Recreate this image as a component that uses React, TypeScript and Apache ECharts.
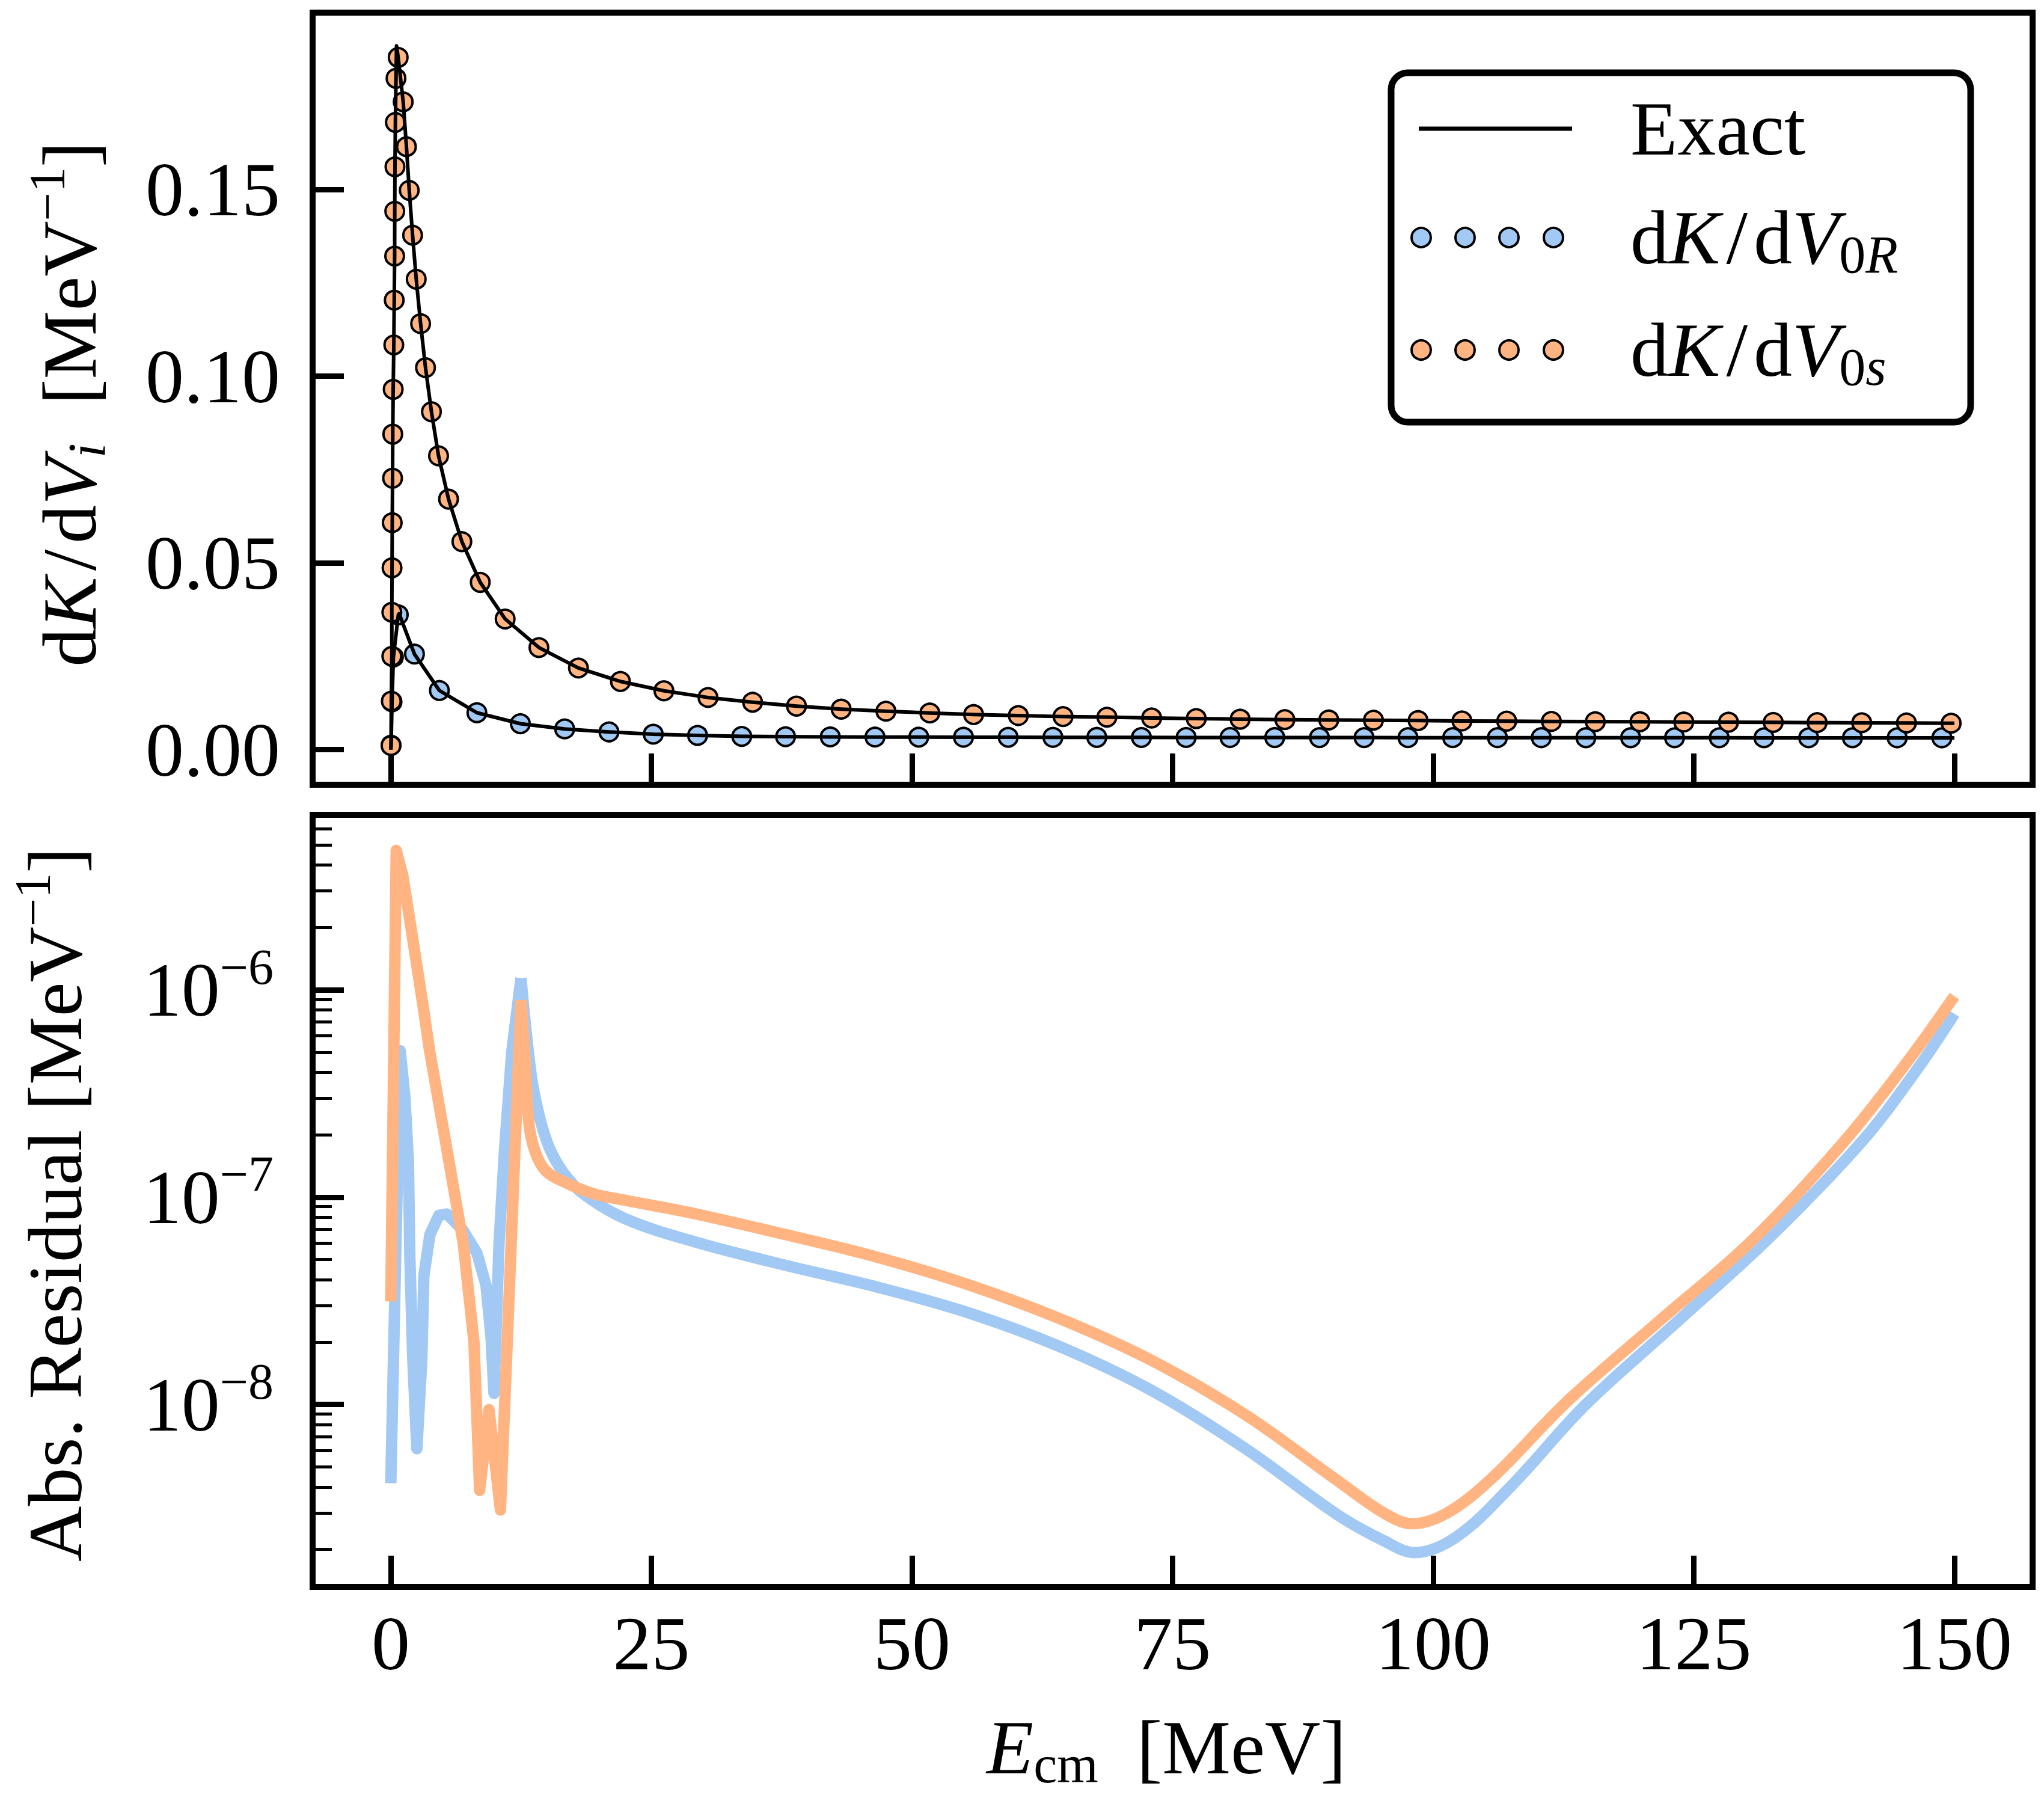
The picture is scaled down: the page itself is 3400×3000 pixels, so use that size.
import React, { useEffect, useRef } from "react";
import * as echarts from "echarts";

const FONT = '"Liberation Serif", "Times New Roman", serif';
const BLUE = "#a1c9f4";
const ORANGE = "#ffb482";

// ---------- axes ----------
const xRange = [-7.5, 157.5];
const xTicks = [0, 25, 50, 75, 100, 125, 150];
const topYRange = [-0.0094, 0.1974];
const topYTicks = [0, 0.05, 0.1, 0.15];
const logYRange = [1.318e-9, 6.99e-6];
const logMajorTicks = [1e-8, 1e-7, 1e-6];
const logMinorTicks = [
  2e-9, 3e-9, 4e-9, 5e-9, 6e-9, 7e-9, 8e-9, 9e-9,
  2e-8, 3e-8, 4e-8, 5e-8, 6e-8, 7e-8, 8e-8, 9e-8,
  2e-7, 3e-7, 4e-7, 5e-7, 6e-7, 7e-7, 8e-7, 9e-7,
  2e-6, 3e-6, 4e-6, 5e-6, 6e-6,
];

// ---------- top panel: dK/dV0s (orange) ----------
const orangeRise = [
  [0.02, 0.0011], [0.05, 0.013], [0.1, 0.025], [0.1, 0.0368], [0.12, 0.0487],
  [0.14, 0.0608], [0.17, 0.0727], [0.19, 0.0845], [0.23, 0.0965], [0.29, 0.1084],
  [0.33, 0.1204], [0.37, 0.1322], [0.38, 0.1442], [0.4, 0.1561], [0.44, 0.168],
  [0.5, 0.1798],
];
const orangeApex = [0.55, 0.1885];
const orangeFall = [
  [0.71, 0.1854], [1.19, 0.1735], [1.5, 0.1615], [1.77, 0.1498], [2.09, 0.1378],
  [2.44, 0.126], [2.86, 0.1141], [3.33, 0.1023], [3.9, 0.0905], [4.58, 0.0787],
  [5.54, 0.0671], [6.82, 0.0557], [8.58, 0.0448], [10.97, 0.035], [14.21, 0.02735],
  [18.0, 0.02187], [22.03, 0.01826], [26.2, 0.01577], [30.43, 0.01397],
];
const orangeTailX = [
  34.71, 38.92, 43.21, 47.5, 51.71, 55.91, 60.2, 64.49, 68.7, 72.99, 77.27, 81.48,
  85.77, 89.98, 94.27, 98.55, 102.76, 107.05, 111.34, 115.55, 119.83, 124.04,
  128.33, 132.62, 136.83, 141.11, 145.4, 149.69,
];
const orangeTailY = [
  0.0127, 0.01166, 0.01085, 0.0103, 0.00982, 0.0094, 0.00913, 0.00886, 0.0087,
  0.00848, 0.00832, 0.00816, 0.00805, 0.00795, 0.00789, 0.00779, 0.00768, 0.00763,
  0.00756, 0.0075, 0.00747, 0.0074, 0.00735, 0.0073, 0.00724, 0.0072, 0.00714, 0.00708,
];
const orangeEnd = [150, 0.00706];

// ---------- top panel: dK/dV0R (blue) ----------
const blueRise = [[0.03, 0.0012], [0.12, 0.0128], [0.25, 0.0248], [0.72, 0.0361]];
const blueApex = [0.8, 0.0364];
const blueFall = [
  [2.27, 0.0256], [4.66, 0.01584], [8.26, 0.00989], [12.43, 0.00695], [16.68, 0.00555],
  [20.93, 0.00474], [25.18, 0.00414], [29.43, 0.00381], [33.67, 0.00355],
];
const blueTailX = [
  37.87, 42.16, 46.45, 50.65, 54.94, 59.23, 63.52, 67.73, 72.01, 76.3, 80.51, 84.8,
  89.09, 93.37, 97.58, 101.87, 106.16, 110.37, 114.65, 118.94, 123.15, 127.44,
  131.73, 136.02, 140.22, 144.51, 148.8,
];
const blueTailY = [
  0.00347, 0.00342, 0.00338, 0.00335, 0.00333, 0.00331, 0.00329, 0.00328, 0.00327,
  0.00326, 0.00325, 0.00324, 0.00323, 0.00323, 0.00322, 0.00322, 0.00321, 0.00321,
  0.0032, 0.0032, 0.00319, 0.00319, 0.00318, 0.00318, 0.00318, 0.00317, 0.00317,
];
const blueEnd = [150, 0.00316];

// ---------- bottom panel: absolute residuals ----------
// sharp part (spikes and dips, straight segments)
const residRSharp = [
  [0, 4.17e-9], [0.9, 5.09e-7], [1.35, 3.05e-7], [1.69, 1.49e-7], [1.83, 5.1e-8],
  [2.11, 1.66e-8], [2.5, 6.11e-9], [2.98, 1.66e-8], [3.17, 4.16e-8], [3.75, 6.59e-8],
  [4.61, 8.17e-8], [5.38, 8.3e-8], [6.92, 6.93e-8], [8.27, 5.37e-8], [9.13, 3.76e-8],
  [9.61, 2.14e-8], [9.9, 1.13e-8], [10.38, 5.94e-8], [10.9, 1.66e-7], [11.6, 5.0e-7],
  [12.49, 1.14e-6],
];
// smooth part
const residRSmooth = [
  [12.49, 1.14e-6], [13.45, 3.94e-7], [14.22, 2.49e-7], [15.19, 1.74e-7],
  [16.53, 1.32e-7], [18.45, 1.04e-7], [22.49, 7.87e-8], [29.0, 6.12e-8],
  [37.8, 4.7e-8], [46.7, 3.68e-8], [55.5, 2.76e-8], [64.3, 1.89e-8], [73.1, 1.16e-8],
  [82.0, 6.12e-9], [90.8, 2.94e-9], [95.2, 2.21e-9], [98.2, 1.93e-9], [102.3, 2.31e-9],
  [107.6, 4.1e-9], [114.6, 9.95e-9], [123.5, 2.53e-8], [132.3, 6.41e-8],
  [141.1, 1.85e-7], [146.4, 4.12e-7], [150, 7.67e-7],
];
const residSSharp = [
  [0, 3.14e-8], [0.52, 4.71e-6], [1.15, 3.56e-6], [2.16, 1.69e-6], [3.21, 7.67e-7],
  [3.71, 5.13e-7], [5.51, 1.56e-7], [6.96, 5.94e-8], [7.98, 2.0e-8], [8.3, 7.69e-9],
  [8.52, 3.85e-9], [9.42, 9.44e-9], [10.52, 3.1e-9], [12.49, 8.93e-7],
];
const residSSmooth = [
  [12.49, 8.93e-7], [12.88, 4.6e-7],
  [13.26, 2.25e-7], [13.84, 1.66e-7], [14.8, 1.35e-7], [16.53, 1.19e-7],
  [19.42, 1.04e-7], [22.49, 9.66e-8], [29.0, 8.36e-8], [37.8, 6.61e-8],
  [46.7, 5.13e-8], [55.5, 3.77e-8], [64.3, 2.58e-8], [73.1, 1.62e-8], [82.0, 8.91e-9],
  [90.8, 4.3e-9], [95.2, 3.01e-9], [98.0, 2.66e-9], [101.4, 3.01e-9], [105.8, 4.49e-9],
  [112.9, 1.04e-8], [121.7, 2.53e-8], [130.5, 6.12e-8], [139.4, 1.85e-7],
  [145.5, 4.51e-7], [150, 9.33e-7],
];

// ---------- texts ----------
const legendLabels = [
  "Exact",
  "d{it|K}{sp| }/{sp| }d{it|V}{sub|0}{subi|R}",
  "d{it|K}{sp| }/{sp| }d{it|V}{sub|0}{subi|s}",
];
const topYTitle = "d{it|K}{sp| }/{sp| }d{it|V}{subi|i}  [MeV{sup|−1}]";
const bottomYTitle = "Abs. Residual [MeV{sup|−1}]";
const xTitle = "{it|E}{sub|cm}  [MeV]";

const zip = (xs: number[], ys: number[]) => xs.map((x, i) => [x, ys[i]]);

const orangeTail = zip(orangeTailX, orangeTailY);
const blueTail = zip(blueTailX, blueTailY);
const orangeMarkers = [...orangeRise, ...orangeFall, ...orangeTail];
const blueMarkers = [...blueRise, ...blueFall, ...blueTail];
const exactS = [[0, 0], ...orangeRise, orangeApex, ...orangeFall, ...orangeTail, orangeEnd];
const exactR = [[0, 0], ...blueRise, blueApex, ...blueFall, ...blueTail, blueEnd];

const BASE = 128;
const SMALL = 88;
const SUP = 84;
const rich = {
  it: { fontSize: BASE, fontFamily: FONT, fontStyle: "italic", fill: "#000" },
  sp: { fontSize: 40, fontFamily: FONT, fill: "#000" },
  sub: { fontSize: SMALL, fontFamily: FONT, fill: "#000", padding: [0, 0, -57, 0] },
  subi: { fontSize: SMALL, fontFamily: FONT, fontStyle: "italic", fill: "#000", padding: [0, 0, -57, 0] },
  sup: { fontSize: SUP, fontFamily: FONT, fill: "#000", padding: [-76, 0, 0, 0] },
};

const textEl = (text: string, x: number, y: number, align: string, rotation = 0) => ({
  type: "text",
  x,
  y,
  rotation,
  z: 100,
  style: {
    text,
    fontSize: BASE,
    fontFamily: FONT,
    fill: "#000",
    align,
    verticalAlign: "middle",
    rich,
  },
});

export default function App() {
  const ref = useRef<HTMLDivElement>(null);
  useEffect(() => {
    document.body.style.margin = "0";
    const chart = echarts.init(ref.current!, null, { renderer: "svg" });
    const tickStyle = (w: number) => ({ color: "#000", width: w });
    const labelBase = { fontSize: BASE, fontFamily: FONT, color: "#000" };
    const legendRows = [214, 395, 582];
    const markerXs = [2364, 2437, 2510, 2584];
    const graphic: any[] = [
      {
        type: "rect",
        z: 90,
        shape: { x: 2314, y: 121, width: 964, height: 581, r: 28 },
        style: { fill: "#fff", stroke: "#000", lineWidth: 11 },
      },
      {
        type: "line",
        z: 95,
        shape: { x1: 2360, y1: legendRows[0], x2: 2615, y2: legendRows[0] },
        style: { stroke: "#000", lineWidth: 7 },
      },
      ...markerXs.map((cx) => ({
        type: "circle",
        z: 95,
        shape: { cx, cy: legendRows[1], r: 16 },
        style: { fill: BLUE, stroke: "#000", lineWidth: 4 },
      })),
      ...markerXs.map((cx) => ({
        type: "circle",
        z: 95,
        shape: { cx, cy: legendRows[2], r: 16 },
        style: { fill: ORANGE, stroke: "#000", lineWidth: 4 },
      })),
      ...legendLabels.map((t, i) => textEl(t, 2712, legendRows[i], "left")),
      textEl(topYTitle, 116, 672, "center", Math.PI / 2),
      textEl(bottomYTitle, 92, 2003, "center", Math.PI / 2),
      textEl(xTitle, 1940, 2906, "center"),
    ];

    const gridBase = { left: 520, width: 2861, height: 1284, show: true, borderColor: "#000", borderWidth: 10, backgroundColor: "rgba(0,0,0,0)", containLabel: false, outerBoundsMode: "none" };
    const resLine = (data: number[][], color: string, smooth: number | boolean) => ({
      type: "line", xAxisIndex: 1, yAxisIndex: 1, data, symbol: "none", showSymbol: false, smooth,
      lineStyle: { color, width: 19, join: "round", cap: "butt" }, silent: true,
    });

    const option: any = {
      animation: false,
      backgroundColor: "#fff",
      grid: [
        { ...gridBase, top: 21 },
        { ...gridBase, top: 1355 },
      ],
      xAxis: [
        {
          gridIndex: 0, type: "value", min: xRange[0], max: xRange[1], position: "bottom",
          axisLine: { show: false, onZero: false },
          axisTick: { show: true, inside: true, length: 52, lineStyle: tickStyle(9), customValues: xTicks },
          axisLabel: { show: false },
          splitLine: { show: false },
        },
        {
          gridIndex: 1, type: "value", min: xRange[0], max: xRange[1], position: "bottom",
          axisLine: { show: false, onZero: false },
          axisTick: { show: true, inside: true, length: 52, lineStyle: tickStyle(9), customValues: xTicks },
          axisLabel: { show: true, customValues: xTicks, margin: 30, ...labelBase, formatter: (v: number) => String(Math.round(v)) },
          splitLine: { show: false },
        },
      ],
      yAxis: [
        {
          gridIndex: 0, type: "value", min: topYRange[0], max: topYRange[1], position: "left",
          axisLine: { show: false, onZero: false },
          axisTick: { show: true, inside: true, length: 52, lineStyle: tickStyle(9), customValues: topYTicks },
          axisLabel: { show: true, customValues: topYTicks, margin: 54, ...labelBase, formatter: (v: number) => v.toFixed(2) },
          splitLine: { show: false },
        },
        {
          gridIndex: 1, type: "log", logBase: 10, min: logYRange[0], max: logYRange[1], position: "left", offset: 0,
          axisLine: { show: false, onZero: false },
          axisTick: { show: true, inside: true, length: 52, lineStyle: tickStyle(9), customValues: logMajorTicks },
          axisLabel: {
            show: true, customValues: logMajorTicks, margin: 65, ...labelBase,
            formatter: (v: number) => `{b|10}{s|−${Math.abs(Math.round(Math.log10(v)))}}`,
            rich: {
              b: { fontSize: BASE, fontFamily: FONT, color: "#000" },
              s: { fontSize: SUP, fontFamily: FONT, color: "#000", padding: [-76, 0, 0, 0] },
            },
          },
          splitLine: { show: false },
        },
        {
          gridIndex: 1, type: "log", logBase: 10, min: logYRange[0], max: logYRange[1], position: "left", offset: 0,
          axisLine: { show: false, onZero: false },
          axisTick: { show: true, inside: true, length: 32, lineStyle: tickStyle(5), customValues: logMinorTicks },
          axisLabel: { show: false },
          splitLine: { show: false },
        },
      ],
      series: [
        { type: "line", name: "Exact", xAxisIndex: 0, yAxisIndex: 0, data: exactR, symbol: "none", showSymbol: false, lineStyle: { color: "#000", width: 6, join: "round" }, silent: true },
        { type: "line", name: "Exact", xAxisIndex: 0, yAxisIndex: 0, data: exactS, symbol: "none", showSymbol: false, lineStyle: { color: "#000", width: 6, join: "round" }, silent: true },
        { type: "scatter", name: "dK/dV0R", xAxisIndex: 0, yAxisIndex: 0, data: blueMarkers, symbol: "circle", symbolSize: 31, itemStyle: { color: BLUE, borderColor: "#000", borderWidth: 4, opacity: 1 }, silent: true },
        { type: "scatter", name: "dK/dV0s", xAxisIndex: 0, yAxisIndex: 0, data: orangeMarkers, symbol: "circle", symbolSize: 31, itemStyle: { color: ORANGE, borderColor: "#000", borderWidth: 4, opacity: 1 }, silent: true },
        resLine(residRSharp, BLUE, false),
        resLine(residRSmooth, BLUE, 0.35),
        resLine(residSSharp, ORANGE, false),
        resLine(residSSmooth, ORANGE, 0.35),
      ],
      graphic,
    };
    chart.setOption(option);
    return () => chart.dispose();
  }, []);
  return <div ref={ref} style={{ width: 3400, height: 3000 }} />;
}
